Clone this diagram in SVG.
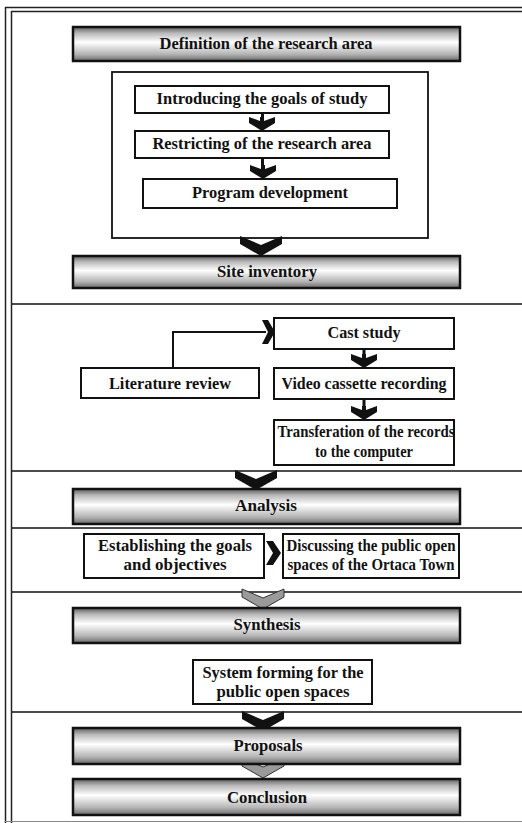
<svg xmlns="http://www.w3.org/2000/svg" width="522" height="823" viewBox="0 0 522 823">
<defs>
<linearGradient id="bar" x1="0" y1="0" x2="0" y2="1">
<stop offset="0" stop-color="#5e5e5e"/>
<stop offset="0.18" stop-color="#b8b8b8"/>
<stop offset="0.45" stop-color="#ffffff"/>
<stop offset="0.8" stop-color="#b4b4b4"/>
<stop offset="1" stop-color="#6a6a6a"/>
</linearGradient>
<polygon id="bigv" points="-21,0 0,9 21,0 21,8 0,20 -21,8"/>
<polygon id="smallv" points="-13,0 -2,4 -2,0 2,0 2,4 13,0 13,6 0,14 -13,6"/>
</defs>
<style>
.frame{fill:none;stroke:#222;stroke-width:1.5}
.sep{fill:none;stroke:#111;stroke-width:1.5}
.banner{fill:url(#bar);stroke:#111;stroke-width:2.5}
.box{fill:#fff;stroke:#111;stroke-width:2}
.cont{fill:none;stroke:#111;stroke-width:1.8}
text{font-family:"Liberation Serif","Times New Roman",serif;font-weight:bold;font-size:16px;fill:#111;text-anchor:middle}
.ab{fill:#111}
.ag{fill:#9a9a9a;stroke:#333;stroke-width:1}
.line{fill:none;stroke:#111;stroke-width:2}
</style>
<rect x="0" y="0" width="522" height="823" fill="#fff"/>
<g id="frame">
<line class="frame" x1="5" y1="7.5" x2="522" y2="7.5"/>
<line class="frame" x1="11" y1="11.5" x2="522" y2="11.5"/>
<line class="frame" x1="5.5" y1="7" x2="5.5" y2="823"/>
<line class="frame" x1="11.5" y1="11" x2="11.5" y2="823"/>
<line x1="5" y1="821.5" x2="522" y2="821.5" stroke="#888" stroke-width="1"/>
<line class="sep" x1="12" y1="304" x2="522" y2="304"/>
<line class="sep" x1="12" y1="471" x2="522" y2="471"/>
<line class="sep" x1="12" y1="528" x2="522" y2="528"/>
<line class="sep" x1="12" y1="592" x2="522" y2="592"/>
<line class="sep" x1="12" y1="712" x2="522" y2="712"/>
</g>
<g id="container">
<rect class="cont" x="112" y="72" width="316" height="166"/>
</g>
<g id="connectors">
<rect class="ab" x="261" y="113" width="3" height="6"/>
<use href="#smallv" x="262" y="117" class="ab"/>
<rect class="ab" x="261" y="158" width="3" height="8"/>
<use href="#smallv" x="263" y="165" class="ab"/>
<use href="#bigv" x="261" y="236" class="ab"/>
<polyline class="line" points="173,368 173,332 266,332"/>
<polygon class="ab" points="262,320 268,320 275,332 268,344 262,344 268,332"/>
<rect class="ab" x="362.5" y="349" width="3" height="8"/>
<use href="#smallv" x="364" y="354" class="ab"/>
<rect class="ab" x="362.5" y="399" width="3" height="8"/>
<use href="#smallv" x="364" y="406" class="ab"/>
<use href="#bigv" x="256" y="470" class="ab"/>
<polygon class="ab" points="266,541 273,541 281,553 273,565 266,565 273,553"/>
<use href="#bigv" x="263" y="589" class="ag"/>
<use href="#bigv" x="263" y="711" class="ab"/>
<use href="#bigv" x="263" y="758" class="ag"/>
</g>
<g id="n-definition">
<rect class="banner" x="73" y="27" width="387" height="34"/>
<text x="266" y="49" textLength="213" lengthAdjust="spacingAndGlyphs">Definition of the research area</text>
</g>
<g id="n-introducing">
<rect class="box" x="135" y="86" width="254" height="27"/>
<text x="262" y="104" textLength="211" lengthAdjust="spacingAndGlyphs">Introducing the goals of study</text>
</g>
<g id="n-restricting">
<rect class="box" x="135" y="131" width="254" height="27"/>
<text x="262" y="149" textLength="219" lengthAdjust="spacingAndGlyphs">Restricting of the research area</text>
</g>
<g id="n-program">
<rect class="box" x="143" y="179" width="254" height="29"/>
<text x="270" y="198" textLength="156" lengthAdjust="spacingAndGlyphs">Program development</text>
</g>
<g id="n-site">
<rect class="banner" x="73" y="256" width="387" height="32"/>
<text x="267" y="277" textLength="100" lengthAdjust="spacingAndGlyphs">Site inventory</text>
</g>
<g id="n-cast">
<rect class="box" x="274" y="318" width="180" height="31"/>
<text x="364" y="338" textLength="73" lengthAdjust="spacingAndGlyphs">Cast study</text>
</g>
<g id="n-literature">
<rect class="box" x="81" y="368" width="178" height="30"/>
<text x="170" y="389" textLength="122" lengthAdjust="spacingAndGlyphs">Literature review</text>
</g>
<g id="n-video">
<rect class="box" x="274" y="368" width="180" height="31"/>
<text x="364" y="389" textLength="165" lengthAdjust="spacingAndGlyphs">Video cassette recording</text>
</g>
<g id="n-transfer">
<rect class="box" x="274" y="420" width="180" height="45"/>
<text x="366" y="437" textLength="177" lengthAdjust="spacingAndGlyphs">Transferation of the records</text>
<text x="364" y="457" textLength="98" lengthAdjust="spacingAndGlyphs">to the computer</text>
</g>
<g id="n-analysis">
<rect class="banner" x="73" y="489" width="387" height="35"/>
<text x="266" y="511" textLength="62" lengthAdjust="spacingAndGlyphs">Analysis</text>
</g>
<g id="n-establishing">
<rect class="box" x="84" y="534" width="180" height="44"/>
<text x="175" y="551" textLength="154" lengthAdjust="spacingAndGlyphs">Establishing the goals</text>
<text x="175" y="570" textLength="103" lengthAdjust="spacingAndGlyphs">and objectives</text>
</g>
<g id="n-discussing">
<rect class="box" x="283" y="534" width="176" height="44"/>
<text x="371" y="551" textLength="169" lengthAdjust="spacingAndGlyphs">Discussing the public open</text>
<text x="371" y="570" textLength="167" lengthAdjust="spacingAndGlyphs">spaces of the Ortaca Town</text>
</g>
<g id="n-synthesis">
<rect class="banner" x="73" y="608" width="387" height="35"/>
<text x="267" y="630" textLength="67" lengthAdjust="spacingAndGlyphs">Synthesis</text>
</g>
<g id="n-system">
<rect class="box" x="193" y="660" width="179" height="44"/>
<text x="283" y="678" textLength="161" lengthAdjust="spacingAndGlyphs">System forming for the</text>
<text x="283" y="697" textLength="133" lengthAdjust="spacingAndGlyphs">public open spaces</text>
</g>
<g id="n-proposals">
<rect class="banner" x="73" y="728" width="387" height="36"/>
<text x="268" y="751" textLength="69" lengthAdjust="spacingAndGlyphs">Proposals</text>
</g>
<g id="n-conclusion">
<rect class="banner" x="73" y="779" width="387" height="36"/>
<text x="267" y="803" textLength="80" lengthAdjust="spacingAndGlyphs">Conclusion</text>
</g>
</svg>
